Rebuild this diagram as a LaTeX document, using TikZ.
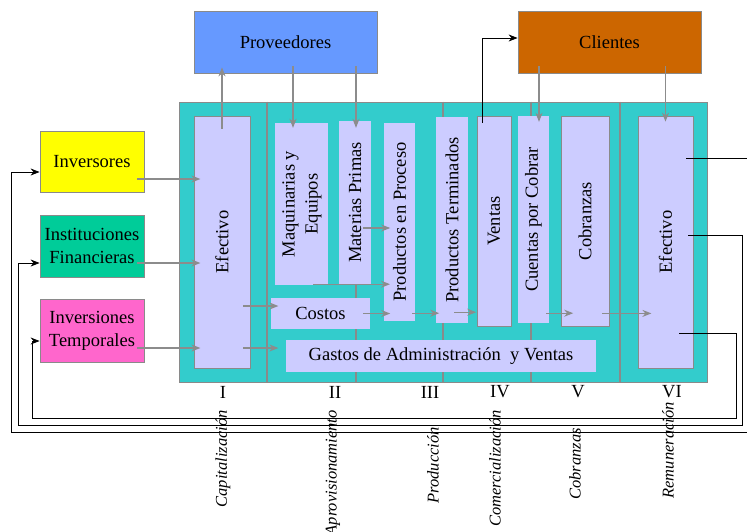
\documentclass[tikz,border=0pt]{standalone}
\usepackage{fontspec}
\setmainfont{Liberation Serif}
\usetikzlibrary{arrows.meta}

\definecolor{cProv}{HTML}{6699FF}
\definecolor{cCli}{HTML}{CC6600}
\definecolor{cFondo}{HTML}{33CCCC}
\definecolor{cLav}{HTML}{CCCCFF}
\definecolor{cInv}{HTML}{FFFF00}
\definecolor{cIfin}{HTML}{00CC99}
\definecolor{cItmp}{HTML}{FF66CC}
\definecolor{cBorde}{HTML}{8A8A8A}
\definecolor{cGris}{HTML}{8C8C8C}

\begin{document}
\begin{tikzpicture}[
x=1pt, y=-1pt,
every node/.style={font=\fontsize{18.5}{23}\selectfont, inner sep=0pt},
tam/.style 2 args={minimum width=#1pt, minimum height=#2pt},
ext/.style={draw=cBorde, line width=0.8pt, fill=#1, align=center},
cta/.style={fill=cLav},
ctab/.style={fill=cLav, draw=cBorde, line width=0.8pt},
divis/.style={draw=cBorde, line width=1.2pt},
flujo/.style={draw=cGris, line width=1.2pt, -{Stealth[length=9pt,width=7pt]}},
retorno/.style={draw=black, line width=0.9pt, -{Stealth[length=9pt,width=7pt]}},
etapa/.style={rotate=90, anchor=east, font=\fontsize{16.5}{18}\selectfont\itshape}
]
\useasboundingbox (0,0) rectangle (747,531);
\clip (0,0) rectangle (747,531);

% fondo y columnas
\node[fill=cFondo, draw=cBorde, line width=0.8pt, tam={528}{280}] (fondo) at (443,242) {};
\foreach \x in {267,356,443,531,620}
  \draw[divis] (\x,0 |- fondo.north) -- (\x,0 |- fondo.south);

% externos
\node[ext=cProv, tam={183}{62}] (prov) at (285.5,42) {Proveedores};
\node[ext=cCli, tam={183}{62}] (cli) at (609.5,42) {Clientes};
\node[ext=cInv, tam={104}{61}] (inv) at (92,161.5) {Inversores};
\node[ext=cIfin, tam={104}{62}] (ifin) at (92,246) {Instituciones\\Financieras};
\node[ext=cItmp, tam={104}{63}] (itmp) at (92,330.5) {Inversiones\\Temporales};

% cuentas
\node[ctab, tam={56}{252}] (efA) at (222,242) {\rotatebox{90}{Efectivo}};
\node[cta, tam={53}{162}] (maq) at (301.5,204)
  {\rotatebox{90}{\begin{tabular}{@{}c@{}}Maquinarias y\\Equipos\end{tabular}}};
\node[cta, tam={32}{163}] (mat) at (355,202.5) {\rotatebox{90}{Materias Primas}};
\node[cta, tam={31}{198}] (proc) at (399.5,222) {\rotatebox{90}{Productos en Proceso}};
\node[cta, tam={32}{206}] (term) at (452,220) {\rotatebox{90}{Productos Terminados}};
\node[ctab, tam={34}{210}] (ven) at (494,221) {\rotatebox{90}{Ventas}};
\node[cta, tam={31}{207}] (cxc) at (533.5,219.5) {\rotatebox{90}{Cuentas por Cobrar}};
\node[ctab, tam={48}{210}] (cob) at (585,221) {\rotatebox{90}{Cobranzas}};
\node[ctab, tam={55}{252}] (efB) at (665.5,242) {\rotatebox{90}{Efectivo}};
\node[cta, tam={99}{31}] (cos) at (320.5,313.5) {Costos};
\node[cta, tam={310}{32}] (gas) at (441,356) {Gastos de Administración\ \ y Ventas};

% flujos
\draw[flujo] ([shift={(-7,17.5)}]inv.east) -- ++(63,0);
\draw[flujo] ([shift={(-7,17)}]ifin.east) -- ++(63,0);
\draw[flujo] ([shift={(-7,17.5)}]itmp.east) -- ++(63,0);
\draw[flujo] ([shift={(0,13)}]efA.north) -- ([shift={(-63.5,-6)}]prov.south);
\draw[flujo] ([shift={(-7,64)}]efA.east) -- ++(35,0);
\draw[flujo] ([shift={(-7,106)}]efA.east) -- ++(35,0);
\draw[flujo] ([shift={(7.5,-7)}]prov.south) -- ([shift={(-8.5,5)}]maq.north);
\draw[flujo] ([shift={(70.5,-7)}]prov.south) -- ([shift={(1,7)}]mat.north);
\draw[flujo] ([shift={(-8,25.5)}]mat.east) -- ++(27,0);
\draw[flujo] ([shift={(11.5,-1)}]maq.south) -- ++(77,0);
\draw[flujo] ([xshift=-7pt]cos.east) -- ++(27,0);
\draw[flujo] ([shift={(-3,-8)}]proc.south east) -- ++(27,0);
\draw[flujo] ([shift={(-14,-11)}]term.south east) -- ++(22,0);
\draw[flujo] ([shift={(-3,-10)}]cxc.south east) -- ++(27,0);
\draw[flujo] ([shift={(-7,-13)}]cob.south east) -- ++(49,0);
\draw[flujo] ([shift={(-70.5,-7)}]cli.south) -- ([shift={(5.5,6)}]cxc.north);
\draw[flujo] ([shift={(56,-7)}]cli.south) -- ([shift={(0,6)}]efB.north);

% retornos
\draw[retorno] ([shift={(-12,7)}]ven.north) |- ([yshift=4pt]cli.west);
\draw[retorno] ([shift={(-7,-84)}]efB.east) -| (752,432) -| (11,172) -- ([yshift=-10.5pt]inv.west);
\draw[retorno] ([shift={(-5,-7)}]efB.east) -| (742,425) -| (18,263) -- ([yshift=-17pt]ifin.west);
\draw[retorno] ([shift={(-14,91)}]efB.east) -| (736,418) -| (32,341) -- ([yshift=-10.5pt]itmp.west);

% etapas
\foreach \r/\x in {I/223,II/335,III/430,IV/500,V/578,VI/672}
  \node (n\r) at (\x,392) {\r};
\node[etapa] (capi) at (223,410) {Capitalización};
\node[etapa] (apro) at (333,410) {Aprovisionamiento};
\node[etapa] (prod) at (433,427) {Producción};
\node[etapa] (come) at (495,410) {Comercialización};
\node[etapa] (cobr) at (575,428) {Cobranzas};
\node[etapa] (remu) at (668,402) {Remuneración};
\end{tikzpicture}
\end{document}
